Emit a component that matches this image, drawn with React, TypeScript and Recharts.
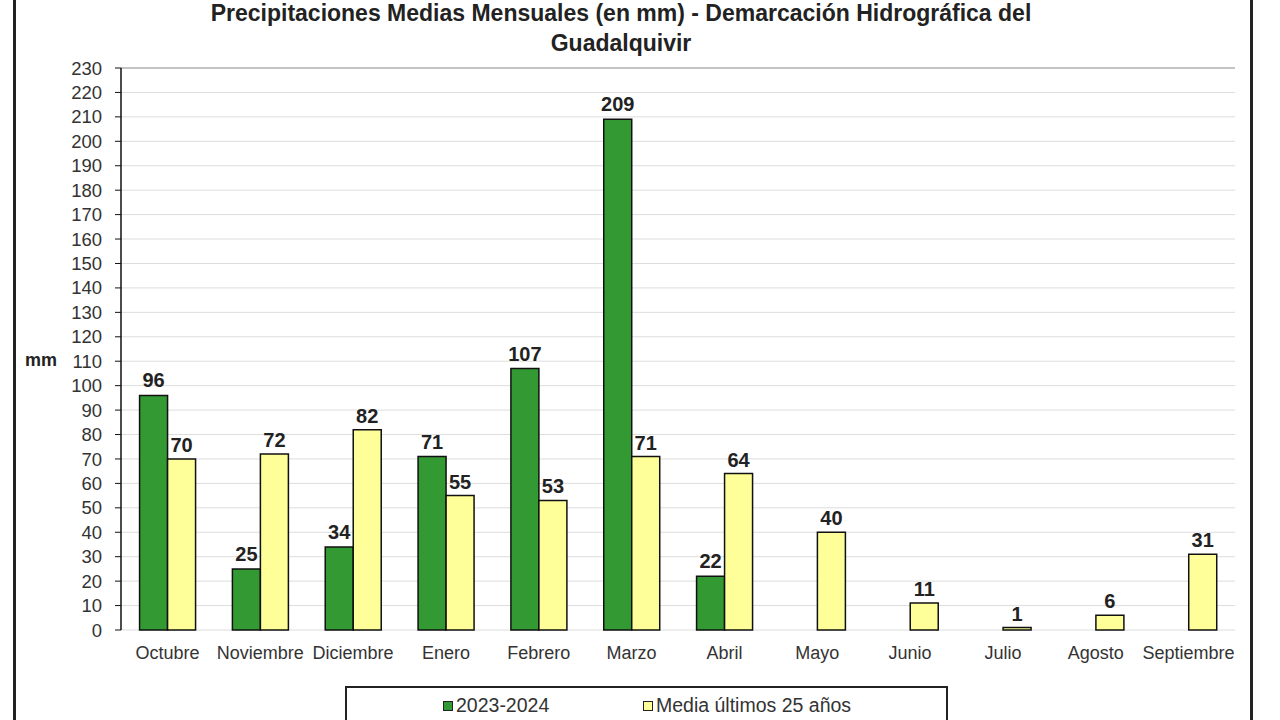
import React from "react";
import {
  Bar,
  BarChart,
  CartesianGrid,
  LabelList,
  Legend,
  ReferenceLine,
  XAxis,
  YAxis,
} from "recharts";

const months = [
  "Octubre",
  "Noviembre",
  "Diciembre",
  "Enero",
  "Febrero",
  "Marzo",
  "Abril",
  "Mayo",
  "Junio",
  "Julio",
  "Agosto",
  "Septiembre",
];

// hydrological year 2023-2024 (no data yet from May onwards)
const lluvia2324 = [96, 25, 34, 71, 107, 209, 22, null, null, null, null, null];
// 25-year monthly average
const media25 = [70, 72, 82, 55, 53, 71, 64, 40, 11, 1, 6, 31];

const yTicks = [
  0, 10, 20, 30, 40, 50, 60, 70, 80, 90, 100, 110, 120, 130, 140, 150, 160,
  170, 180, 190, 200, 210, 220, 230,
];
const monthEdges = [0, 1, 2, 3, 4, 5, 6, 7, 8, 9, 10, 11, 12];

const GREEN = "#339933";
const YELLOW = "#ffff99";
const FONT = "'Liberation Sans', Arial, sans-serif";

const data = months.map((mes, i) => ({
  mes,
  actual: lluvia2324[i],
  media: media25[i],
  pos: i + 0.5,
}));

const renderValue = (offset: number) => (props: any) => {
  const { x, y, width, value } = props;
  if (value === null || value === undefined) return null;
  return (
    <text
      x={x + width / 2}
      y={y - offset}
      textAnchor="middle"
      fontFamily={FONT}
      fontWeight="bold"
      fontSize={20}
      fill="#222"
    >
      {value}
    </text>
  );
};

const LegendBox = () => (
  <div
    style={{
      boxSizing: "border-box",
      width: 603,
      height: 50,
      border: "2px solid #222",
      fontFamily: FONT,
      fontSize: 19.5,
      color: "#333",
      position: "relative",
    }}
  >
    {[
      { name: "2023-2024", fill: GREEN, left: 96 },
      { name: "Media últimos 25 años", fill: YELLOW, left: 296 },
    ].map((it) => (
      <div
        key={it.name}
        style={{
          position: "absolute",
          left: it.left,
          top: 6,
          display: "flex",
          alignItems: "center",
          whiteSpace: "nowrap",
        }}
      >
        <span
          style={{
            display: "inline-block",
            width: 8,
            height: 8,
            border: "1.5px solid #222",
            background: it.fill,
            marginRight: 3,
          }}
        />
        {it.name}
      </div>
    ))}
  </div>
);

export default function App() {
  return (
    <div
      style={{
        position: "absolute",
        left: 0,
        top: 0,
        width: 1280,
        height: 720,
        overflow: "hidden",
        background: "#fff",
      }}
    >
      {/* page frame */}
      <div
        style={{
          position: "absolute",
          left: 13,
          top: -10,
          width: 1234,
          height: 760,
          borderLeft: "3px solid #222",
          borderRight: "3px solid #222",
        }}
      />
      <div
        style={{
          position: "absolute",
          left: 0,
          top: -2,
          width: 1242,
          textAlign: "center",
          fontFamily: FONT,
          fontWeight: "bold",
          fontSize: 23,
          lineHeight: "30px",
          color: "#222",
        }}
      >
        Precipitaciones Medias Mensuales (en mm) - Demarcación Hidrográfica del
        <br />
        Guadalquivir
      </div>
      <BarChart
        width={1280}
        height={720}
        data={data}
        margin={{ top: 68, right: 45, left: 0, bottom: 60 }}
        barCategoryGap="20%"
        barGap={0}
      >
        <CartesianGrid vertical={false} stroke="#dddddd" />
        <XAxis
          xAxisId="edges"
          type="number"
          dataKey="pos"
          domain={[0, 12]}
          ticks={monthEdges}
          allowDataOverflow
          height={0}
          tick={false}
          tickSize={5}
          axisLine={{ stroke: "#111", strokeWidth: 1.5 }}
          tickLine={{ stroke: "#111" }}
        />
        <XAxis
          dataKey="mes"
          height={30}
          axisLine={false}
          tickLine={false}
          tickSize={6}
          tickMargin={10}
          interval={0}
          tick={{ fontFamily: FONT, fontSize: 18, fill: "#333" }}
        />
        <YAxis
          domain={[0, 230]}
          ticks={yTicks}
          interval={0}
          width={121}
          tickSize={6}
          tickMargin={13}
          axisLine={{ stroke: "#111", strokeWidth: 1.5 }}
          tickLine={{ stroke: "#111" }}
          tick={{ fontFamily: FONT, fontSize: 18.5, fill: "#333" }}
          label={{
            value: "mm",
            position: "insideLeft",
            offset: 25,
            dy: 11,
            style: {
              fontFamily: FONT,
              fontWeight: "bold",
              fontSize: 18,
              fill: "#222",
            },
          }}
        />
        <YAxis
          yAxisId="right"
          orientation="right"
          domain={[0, 230]}
          width={0}
          tick={false}
          tickLine={false}
          axisLine={{ stroke: "#999" }}
        />
        <ReferenceLine y={230} stroke="#999" />
        <Legend
          layout="horizontal"
          verticalAlign="middle"
          align="center"
          wrapperStyle={{ position: "absolute", left: 345, top: 686, width: 603 }}
          content={() => <LegendBox />}
        />
        <Bar
          dataKey="actual"
          name="2023-2024"
          fill={GREEN}
          stroke="#111"
          strokeWidth={1.5}
          isAnimationActive={false}
        >
          <LabelList dataKey="actual" content={renderValue(8)} />
        </Bar>
        <Bar
          dataKey="media"
          name="Media últimos 25 años"
          fill={YELLOW}
          stroke="#111"
          strokeWidth={1.5}
          isAnimationActive={false}
        >
          <LabelList dataKey="media" content={renderValue(7)} />
        </Bar>
      </BarChart>
    </div>
  );
}
